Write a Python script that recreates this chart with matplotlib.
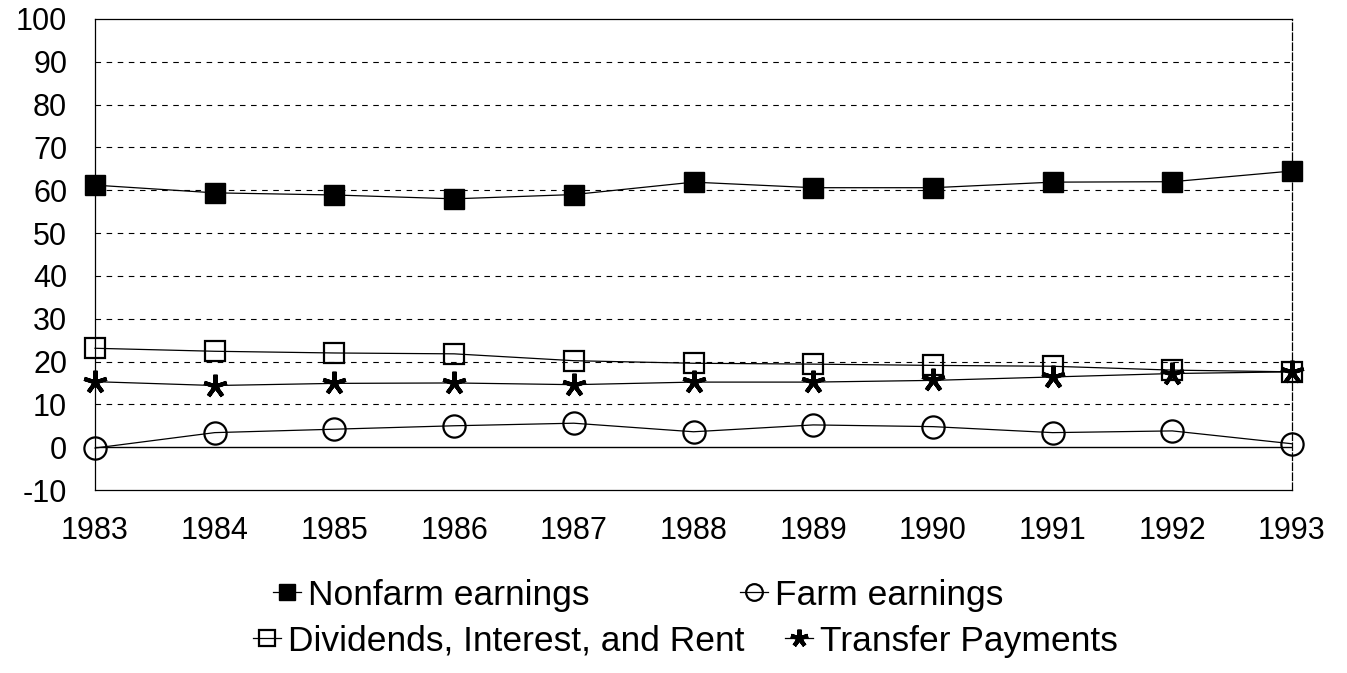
import matplotlib
matplotlib.use("Agg")
import matplotlib.pyplot as plt

years = [1983, 1984, 1985, 1986, 1987, 1988, 1989, 1990, 1991, 1992, 1993]
nonfarm = [61.2, 59.4, 58.9, 58.0, 59.0, 61.9, 60.6, 60.6, 61.9, 62.0, 64.5]
farm = [-0.2, 3.4, 4.2, 5.0, 5.6, 3.6, 5.2, 4.8, 3.4, 3.8, 0.8]
dividends = [23.1, 22.4, 22.0, 21.8, 20.2, 19.6, 19.4, 19.1, 18.9, 18.0, 17.6]
transfer = [15.3, 14.4, 14.9, 15.0, 14.6, 15.2, 15.2, 15.6, 16.4, 17.2, 17.6]
yticks = [-10, 0, 10, 20, 30, 40, 50, 60, 70, 80, 90, 100]

plt.rcParams['font.family'] = ['Liberation Sans', 'DejaVu Sans']
plt.rcParams['axes.unicode_minus'] = False

fig = plt.figure(figsize=(13.47, 6.73), dpi=100)
ax = fig.add_axes([95/1347, 1-490/673, (1292-95)/1347, (490-19)/673])

for y in yticks[2:-1]:
    ax.axhline(y, color='black', lw=0.8, ls=(0, (5, 5)), zorder=1)
ax.axhline(0, color='black', lw=1.0, zorder=1)

lw = 0.9
h1, = ax.plot(years, nonfarm, color='black', lw=lw, marker='s', ms=15,
              mfc='black', mec='black', zorder=3, clip_on=False,
              label='Nonfarm earnings')
h2, = ax.plot(years, farm, color='black', lw=lw, marker='o', ms=16,
              mfc='none', mec='black', mew=1.6, zorder=3, clip_on=False,
              label='Farm earnings')
h3, = ax.plot(years, dividends, color='black', lw=lw, marker='s', ms=15,
              mfc='none', mec='black', mew=1.6, zorder=3, clip_on=False,
              label='Dividends, Interest, and Rent')
h4, = ax.plot(years, transfer, color='black', lw=lw, marker=(5, 2, 0), ms=17,
              mfc='black', mec='black', mew=3.0, zorder=3, clip_on=False,
              label='Transfer Payments')

ax.set_xlim(1983, 1993)
ax.set_ylim(-10, 100)
ax.set_yticks(yticks)
ax.set_xticks(years)
ax.set_xticklabels([str(y) for y in years])
ax.tick_params(axis='y', length=0, pad=20, labelsize=22)
ax.tick_params(axis='x', length=0, pad=19, labelsize=22)
for s in ax.spines.values():
    s.set_linewidth(0.9)
    s.set_color('black')
ax.spines['right'].set_linestyle((0, (6, 2)))

positions = [(273, 595, h1), (740, 595, h2), (253, 641, h3), (785, 641, h4)]
for x, y, h in positions:
    fig.legend(handles=[h], loc='center left',
               bbox_to_anchor=(x/1347, 1-y/673), frameon=False,
               fontsize=25.5, handlelength=0.8, handletextpad=0.2,
               borderpad=0, borderaxespad=0, markerscale=0.75)

fig.savefig('out.png', dpi=100)
